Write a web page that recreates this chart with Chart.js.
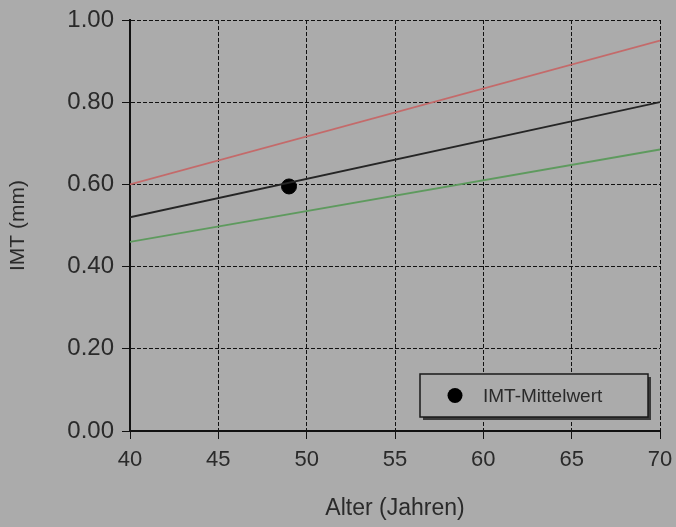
<!DOCTYPE html>
<html>
<head>
<meta charset="utf-8">
<script src="https://cdn.jsdelivr.net/npm/chart.js@4.4.0/dist/chart.umd.min.js"></script>
<style>
  html, body { margin: 0; padding: 0; background: #ababab; }
  #wrap { width: 676px; height: 527px; }
</style>
</head>
<body>
<div id="wrap"><canvas id="imtChart" width="676" height="527"></canvas></div>
<script>
// Reference lines (age vs IMT) and the measured mean value
const ages = [40, 70];
const upperLine = [0.60, 0.95];
const middleLine = [0.52, 0.80];
const lowerLine = [0.46, 0.685];
const meanPoint = { age: 49, imt: 0.595 };
const legendLabel = 'IMT-Mittelwert';
const xTitle = 'Alter (Jahren)';
const yTitle = 'IMT (mm)';

const toXY = (ys) => ages.map((a, i) => ({ x: a, y: ys[i] }));
const font = 'Liberation Sans, Arial, sans-serif';

/* legend box drawn inside the plot, bottom right */
const boxLegend = {
  id: 'boxLegend',
  afterDraw(chart) {
    const { ctx, chartArea: ca } = chart;
    const w = 228, h = 43;
    const x = ca.right - 12 - w, y = ca.bottom - 14 - h;
    ctx.save();
    ctx.fillStyle = '#3a3a3a';
    ctx.fillRect(x + 3, y + 3, w, h);
    ctx.fillStyle = '#ababab';
    ctx.fillRect(x, y, w, h);
    ctx.strokeStyle = '#1a1a1a';
    ctx.lineWidth = 1.5;
    ctx.strokeRect(x, y, w, h);
    ctx.fillStyle = '#000';
    ctx.beginPath();
    ctx.arc(x + 35, y + h / 2, 7.5, 0, Math.PI * 2);
    ctx.fill();
    ctx.fillStyle = '#2a2a2a';
    ctx.font = '19px ' + font;
    ctx.textBaseline = 'middle';
    ctx.fillText(legendLabel, x + 63, y + h / 2 + 1);
    ctx.restore();
  }
};

new Chart(document.getElementById('imtChart'), {
  type: 'scatter',
  data: {
    datasets: [
      { data: toXY(upperLine), showLine: true, borderColor: '#c46a6a', borderWidth: 1.8, pointRadius: 0 },
      { data: toXY(middleLine), showLine: true, borderColor: '#252525', borderWidth: 1.8, pointRadius: 0 },
      { data: toXY(lowerLine), showLine: true, borderColor: '#5e9a5e', borderWidth: 1.8, pointRadius: 0 },
      { data: [{ x: meanPoint.age, y: meanPoint.imt }], backgroundColor: '#000', borderColor: '#000', pointRadius: 7.5 },
    ]
  },
  options: {
    responsive: false,
    animation: false,
    layout: { padding: { left: 0, right: 16, top: 20, bottom: 0 } },
    plugins: { legend: { display: false }, tooltip: { enabled: false } },
    scales: {
      x: {
        type: 'linear', min: 40, max: 70,
        afterFit: (s) => { s.height = 96; s.paddingLeft = 0; s.paddingRight = 0; },
        ticks: { stepSize: 5, color: '#2a2a2a', font: { family: font, size: 22 }, padding: 8 },
        grid: { color: '#111', lineWidth: 1, tickLength: 8, tickColor: '#111' },
        border: { color: '#111', width: 2, dash: [4, 2] },
        title: { display: true, text: xTitle, color: '#2a2a2a', font: { family: font, size: 23 }, padding: { top: 0, bottom: 5 } }
      },
      y: {
        min: 0, max: 1,
        afterFit: (s) => { s.width = 130; s.paddingTop = 0; s.paddingBottom = 0; },
        ticks: { stepSize: 0.2, color: '#2a2a2a', font: { family: font, size: 24 }, padding: 8, callback: (v) => Number(v).toFixed(2) },
        grid: { color: '#111', lineWidth: 1, tickLength: 8, tickColor: '#111' },
        border: { color: '#111', width: 2, dash: [4, 2] },
        title: { display: true, text: yTitle, color: '#2a2a2a', font: { family: font, size: 21 }, padding: { top: 6, bottom: 0 } }
      }
    }
  },
  plugins: [boxLegend]
});
</script>
</body>
</html>
